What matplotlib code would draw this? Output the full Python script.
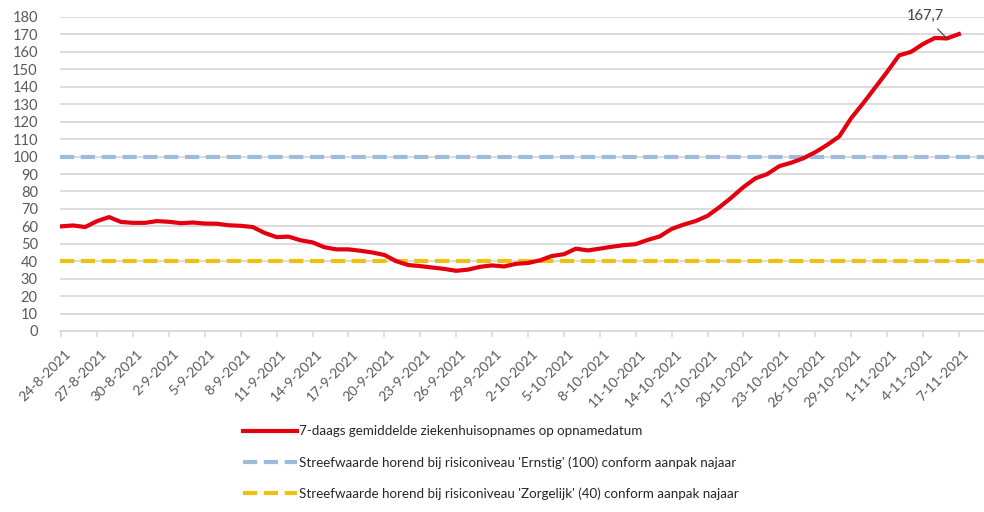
import matplotlib
matplotlib.use("Agg")
import matplotlib.pyplot as plt
import matplotlib.transforms as mtransforms
import numpy as np
import datetime as dt

# data: 7-day average hospital admissions, 24-8-2021 .. 7-11-2021
start = dt.date(2021, 8, 24)
admissions = [
    60.0, 60.5, 59.6, 63.0, 65.3, 62.5, 62.0, 62.0, 63.0, 62.6,
    61.8, 62.2, 61.6, 61.5, 60.6, 60.3, 59.6, 56.2, 53.8, 54.1,
    52.0, 50.8, 48.0, 46.8, 46.8, 46.0, 45.0, 43.6, 40.0, 37.8,
    37.2, 36.4, 35.6, 34.5, 35.2, 36.8, 37.6, 37.0, 38.5, 39.0,
    40.5, 43.0, 44.0, 47.2, 46.2, 47.2, 48.3, 49.2, 49.8, 52.2,
    54.2, 58.5, 61.0, 63.0, 66.0, 71.0, 76.5, 82.5, 87.5, 90.0,
    94.5, 96.5, 99.0, 102.5, 106.7, 111.5, 122.0, 130.5, 139.5, 148.5,
    158.0, 160.0, 164.5, 168.0, 167.7, 170.2,
]
dates = [start + dt.timedelta(days=i) for i in range(len(admissions))]
date_labels = [f"{d.day}-{d.month}-{d.year}" for d in dates]
ernstig = 100
zorgelijk = 40
label_day = 74
label_text = "167,7"

legend_labels = [
    "7-daags gemiddelde ziekenhuisopnames op opnamedatum",
    "Streefwaarde horend bij risiconiveau 'Ernstig' (100) conform aanpak najaar",
    "Streefwaarde horend bij risiconiveau 'Zorgelijk' (40) conform aanpak najaar",
]

plt.rcParams["font.family"] = ["Lato", "DejaVu Sans"]

W, H = 984, 512
fig = plt.figure(figsize=(W / 100, H / 100), dpi=100)
ax = fig.add_axes([60 / W, 1 - 331 / H, (W - 60) / W, (331 - 17) / H])

x = np.arange(len(admissions))

red = "#e3000f"
blue = "#9dbcdc"
gold = "#f0c010"
grey = "#595959"

ax.axhline(ernstig, color=blue, lw=3.0, dashes=(3.4, 1.6), zorder=2, label=legend_labels[1])
ax.axhline(zorgelijk, color=gold, lw=3.0, dashes=(3.4, 1.6), zorder=2, label=legend_labels[2])
line, = ax.plot(x, admissions, color=red, lw=3.0, zorder=3, label=legend_labels[0])

ax.annotate(label_text, xy=(label_day, admissions[label_day]), xytext=(72.2, 180.5),
            ha="center", va="center", fontsize=10.5, color="#404040",
            arrowprops=dict(arrowstyle="-", color="#404040", lw=0.8, shrinkA=3, shrinkB=0),
            annotation_clip=False)

ax.set_ylim(0, 180)
ax.set_yticks(range(0, 181, 10))
ax.set_xlim(-0.1, 77.1)
ax.set_xticks(x[::3])
ax.set_xticklabels(date_labels[::3], rotation=45, ha="right", va="center",
                   rotation_mode="anchor", fontsize=10, color=grey)

ax.tick_params(axis="y", length=0, labelsize=10.5, labelcolor=grey, pad=16)
ax.tick_params(axis="x", length=4, color="#d9d9d9", width=1.2, pad=11)

ax.grid(axis="y", color="#d9d9d9", lw=1.3, zorder=0)
ax.set_axisbelow(True)
for side in ["top", "right", "left"]:
    ax.spines[side].set_visible(False)
ax.spines["bottom"].set_color("#d9d9d9")
ax.spines["bottom"].set_linewidth(1.3)

handles = [line, ax.lines[0], ax.lines[1]]
fig.legend(handles, legend_labels, loc="upper left",
           bbox_to_anchor=(238 / W, 1 - 420 / H), frameon=False,
           fontsize=9.6, handlelength=4.0, handletextpad=0.15, labelspacing=1.4,
           labelcolor="#262626", borderaxespad=0)

# shift the date labels a little to the right, like the original
fig.canvas.draw()
offset = mtransforms.ScaledTranslation(8 / 100, 0, fig.dpi_scale_trans)
for lab in ax.get_xticklabels():
    lab.set_transform(lab.get_transform() + offset)

fig.savefig("out.png", dpi=100)
